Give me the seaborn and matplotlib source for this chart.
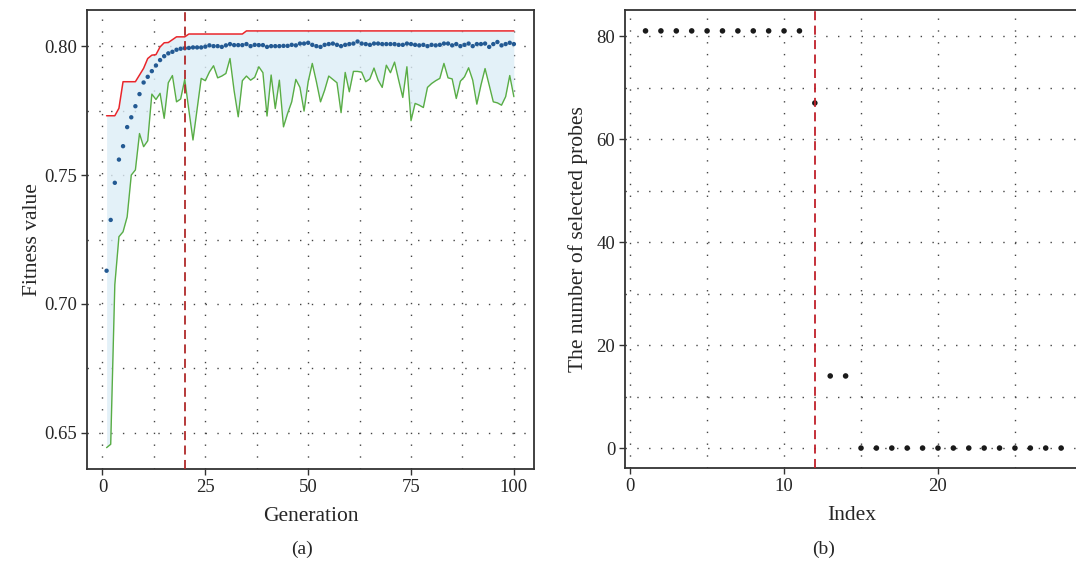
import numpy as np
import pandas as pd
import matplotlib
matplotlib.use("Agg")
import matplotlib.pyplot as plt
from matplotlib.ticker import MultipleLocator
import seaborn as sns

# (a) fitness per generation
generation = list(range(1, 101))
mean_fitness = [
    0.7129, 0.7326, 0.7470, 0.7560, 0.7612, 0.7686, 0.7724, 0.7767, 0.7814, 0.7859,
    0.7881, 0.7903, 0.7925, 0.7946, 0.7961, 0.7972, 0.7978, 0.7986, 0.7990, 0.7992,
    0.7993, 0.7995, 0.7995, 0.7995, 0.7998, 0.8003, 0.8000, 0.8000, 0.7997, 0.8003,
    0.8008, 0.8004, 0.8004, 0.8004, 0.8008, 0.8000, 0.8005, 0.8004, 0.8004, 0.7997,
    0.8000, 0.8000, 0.8000, 0.8001, 0.8001, 0.8005, 0.8003, 0.8010, 0.8010, 0.8013,
    0.8005, 0.8000, 0.7997, 0.8005, 0.8008, 0.8010, 0.8005, 0.8000, 0.8005, 0.8008,
    0.8010, 0.8018, 0.8010, 0.8008, 0.8005, 0.8010, 0.8010, 0.8008, 0.8008, 0.8008,
    0.8008, 0.8005, 0.8005, 0.8010, 0.8008, 0.8005, 0.8003, 0.8005, 0.8000, 0.8005,
    0.8003, 0.8005, 0.8010, 0.8010, 0.8003, 0.8008, 0.8000, 0.8005, 0.8010, 0.8000,
    0.8008, 0.8008, 0.8010, 0.7997, 0.8008, 0.8016, 0.8003, 0.8008, 0.8013, 0.8008,
]
max_fitness = [
    0.7730, 0.7730, 0.7730, 0.7759, 0.7862, 0.7862, 0.7862, 0.7862, 0.7888, 0.7914,
    0.7952, 0.7965, 0.7967, 0.7997, 0.8013, 0.8014, 0.8025, 0.8036, 0.8036, 0.8036,
    0.8047, 0.8047, 0.8047, 0.8047, 0.8047, 0.8047, 0.8047, 0.8047, 0.8047, 0.8047,
    0.8047, 0.8047, 0.8047, 0.8047, 0.8059, 0.8059, 0.8059, 0.8059, 0.8059, 0.8059,
    0.8059, 0.8059, 0.8059, 0.8059, 0.8059, 0.8059, 0.8059, 0.8059, 0.8059, 0.8059,
    0.8059, 0.8059, 0.8059, 0.8059, 0.8059, 0.8059, 0.8059, 0.8059, 0.8059, 0.8059,
    0.8059, 0.8059, 0.8059, 0.8059, 0.8059, 0.8059, 0.8059, 0.8059, 0.8059, 0.8059,
    0.8059, 0.8059, 0.8059, 0.8059, 0.8059, 0.8059, 0.8059, 0.8059, 0.8059, 0.8059,
    0.8059, 0.8059, 0.8059, 0.8059, 0.8059, 0.8059, 0.8059, 0.8059, 0.8059, 0.8059,
    0.8059, 0.8059, 0.8059, 0.8059, 0.8059, 0.8059, 0.8059, 0.8059, 0.8059, 0.8059,
]
min_fitness = [
    0.6443, 0.6456, 0.7075, 0.7261, 0.7280, 0.7338, 0.7500, 0.7520, 0.7661, 0.7610,
    0.7633, 0.7814, 0.7793, 0.7817, 0.7720, 0.7858, 0.7886, 0.7784, 0.7795, 0.7871,
    0.7752, 0.7636, 0.7755, 0.7875, 0.7866, 0.7900, 0.7924, 0.7877, 0.7884, 0.7894,
    0.7952, 0.7827, 0.7726, 0.7866, 0.7884, 0.7868, 0.7879, 0.7920, 0.7897, 0.7729,
    0.7888, 0.7758, 0.7868, 0.7687, 0.7739, 0.7784, 0.7871, 0.7840, 0.7748, 0.7862,
    0.7933, 0.7862, 0.7784, 0.7829, 0.7884, 0.7871, 0.7858, 0.7742, 0.7898, 0.7823,
    0.7902, 0.7902, 0.7899, 0.7862, 0.7873, 0.7915, 0.7868, 0.7840, 0.7926, 0.7897,
    0.7938, 0.7868, 0.7801, 0.7920, 0.7711, 0.7778, 0.7771, 0.7762, 0.7840, 0.7855,
    0.7866, 0.7875, 0.7933, 0.7877, 0.7873, 0.7797, 0.7864, 0.7881, 0.7916, 0.7868,
    0.7775, 0.7849, 0.7913, 0.7849, 0.7784, 0.7780, 0.7771, 0.7804, 0.7886, 0.7804,
]
cutoff_gen = 20

# (b) number of selected probes
index = list(range(1, 29))
n_probes = [81, 81, 81, 81, 81, 81, 81, 81, 81, 81, 81, 67, 14, 14,
            0, 0, 0, 0, 0, 0, 0, 0, 0, 0, 0, 0, 0, 0]
cutoff_idx = 12

df_a = pd.DataFrame({"gen": generation, "mean": mean_fitness,
                     "max": max_fitness, "min": min_fitness})
df_b = pd.DataFrame({"idx": index, "n": n_probes})

sns.set_style("white")
plt.rcParams["font.family"] = ["Liberation Serif", "DejaVu Serif"]
plt.rcParams["font.size"] = 13.5

fig = plt.figure(figsize=(10.76, 5.67), dpi=100)
ax1 = fig.add_axes([0.0809, 0.1728, 0.4154, 0.8095])
ax2 = fig.add_axes([0.5809, 0.1740, 0.4210, 0.8083])

grid_kw = dict(color="#444444", linestyle=(0, (1, 7.5)), linewidth=1.0)

def style_axes(ax):
    for s in ax.spines.values():
        s.set_color("#333333")
        s.set_linewidth(1.3)
    ax.tick_params(axis="both", which="major", direction="out", length=4,
                   width=1, color="#333333", labelsize=13.5, pad=3,
                   bottom=True, left=True)
    ax.tick_params(which="minor", length=0)
    ax.grid(True, which="both", **grid_kw)
    ax.set_axisbelow(True)

# panel (a)
ax1.fill_between(df_a["gen"], df_a["min"], df_a["max"], color="#ddeef7",
                 alpha=0.8, linewidth=0, zorder=1)
sns.lineplot(data=df_a, x="gen", y="max", ax=ax1, color="#e8262b", linewidth=1.1, zorder=3)
sns.lineplot(data=df_a, x="gen", y="min", ax=ax1, color="#59ad45", linewidth=1.0, zorder=3)
sns.scatterplot(data=df_a, x="gen", y="mean", ax=ax1, color="#235a93", s=10,
                edgecolor="none", zorder=4)
ax1.axvline(cutoff_gen, color="#b02a2a", linestyle=(0, (5, 3)), linewidth=1.3, zorder=5)
ax1.set_xlim(-3.75, 104.9)
ax1.set_ylim(0.636, 0.814)
ax1.xaxis.set_major_locator(MultipleLocator(25))
ax1.xaxis.set_minor_locator(MultipleLocator(12.5))
ax1.yaxis.set_major_locator(MultipleLocator(0.05))
ax1.yaxis.set_minor_locator(MultipleLocator(0.025))
ax1.yaxis.set_major_formatter(matplotlib.ticker.FormatStrFormatter("%.2f"))
ax1.set_xlabel("Generation", fontsize=15.5, labelpad=8)
ax1.set_ylabel("Fitness value", fontsize=15.5, labelpad=1.5)
style_axes(ax1)

# panel (b)
sns.scatterplot(data=df_b, x="idx", y="n", ax=ax2, color="#1a1a1a", s=16,
                edgecolor="none", zorder=4)
ax2.axvline(cutoff_idx, color="#c0202a", linestyle=(0, (5, 3)), linewidth=1.3, zorder=5)
ax2.set_xlim(-0.33, 29.1)
ax2.set_ylim(-3.94, 85.05)
ax2.xaxis.set_major_locator(MultipleLocator(10))
ax2.xaxis.set_minor_locator(MultipleLocator(5))
ax2.yaxis.set_major_locator(MultipleLocator(20))
ax2.yaxis.set_minor_locator(MultipleLocator(10))
ax2.set_xlabel("Index", fontsize=15.5, labelpad=8)
ax2.set_ylabel("The number of selected probes", fontsize=15.5, labelpad=6)
style_axes(ax2)

fig.text(0.2805, 0.031, "(a)", ha="center", va="center", fontsize=14)
fig.text(0.765, 0.031, "(b)", ha="center", va="center", fontsize=14)

fig.savefig("out.png", dpi=100)
